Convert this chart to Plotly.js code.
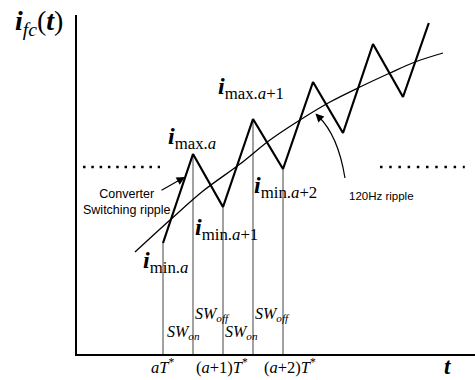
<!DOCTYPE html>
<html><head><meta charset="utf-8">
<script src="https://cdn.plot.ly/plotly-3.0.1.min.js"></script>
<style>html,body{margin:0;padding:0;background:#fff}#chart{width:475px;height:380px}</style>
</head><body><div id="chart"></div>
<script>
// switching instants in units of T* (aT* = 0) and the fuel-cell current there
const switchTimes = [0, 0.5, 1, 1.5, 2, 2.5, 3, 3.5, 4, 4.43];
const switchCurrents = [1.11, 2.00, 1.47, 2.35, 1.85, 2.72, 2.21, 3.10, 2.57, 3.31];
// 120 Hz ripple envelope
const rippleTimes = [-0.467, 0.117, 0.667, 1.283, 1.783, 2.283, 2.783, 3.283, 3.783, 4.2, 4.667];
const rippleCurrents = [1.02, 1.34, 1.63, 1.90, 2.14, 2.34, 2.52, 2.67, 2.81, 2.92, 3.01];
// number of marked instants (vertical guide lines)
const markedCount = 5;
// "..." continuation level and spans
const dottedLevel = 1.87;
const dottedLeft = [-1.333, -0.05];
const dottedRight = [3.617, 5.03];
// tick labels (placed in paper units below the axis)
const tickLabels = ['<i>aT</i><sup>*</sup>', '(<i>a</i>+1)<i>T</i><sup>*</sup>', '(<i>a</i>+2)<i>T</i><sup>*</sup>'];
const tickLabelX = [0.2136, 0.3643, 0.5352];

const gx = [], gy = [];
for (let k = 0; k < markedCount; k++) {
  gx.push(switchTimes[k], switchTimes[k], null);
  gy.push(0, switchCurrents[k], null);
}

const traces = [
  {x: gx, y: gy, mode: 'lines', line: {color: '#444', width: 1}, hoverinfo: 'skip'},
  {x: rippleTimes, y: rippleCurrents, mode: 'lines', line: {color: '#000', width: 1.3, shape: 'spline'}},
  {x: switchTimes, y: switchCurrents, mode: 'lines', line: {color: '#000', width: 2.2}},
  {x: dottedLeft, y: [dottedLevel, dottedLevel], mode: 'lines', line: {color: '#000', width: 2.5, dash: '2.5px,5.8px'}},
  {x: dottedRight, y: [dottedLevel, dottedLevel], mode: 'lines', line: {color: '#000', width: 2.5, dash: '2.5px,6.7px'}}
];

const serif = 'Liberation Serif, Times New Roman, serif';
const sans = 'Liberation Sans, Arial, sans-serif';
function lab(x, y, text, size, extra) {
  return Object.assign({x: x, y: y, xref: 'x', yref: 'y', text: text, showarrow: false,
    xanchor: 'left', yanchor: 'top', font: {family: serif, size: size, color: '#000'}}, extra || {});
}

const ann = [
  lab(-0.1608, 1.035, '<b><i>i</i></b><sub><i>fc</i></sub>(<b><i>t</i></b>)', 28, {xref: 'paper', yref: 'paper'}),
  lab(0.05, 2.33, '<b><i>i</i></b><sub>max.<i>a</i></sub>', 24),
  lab(0.883, 2.83, '<b><i>i</i></b><sub>max.<i>a</i>+1</sub>', 24),
  lab(0.5, 1.42, '<b><i>i</i></b><sub>min.<i>a</i>+1</sub>', 24),
  lab(1.483, 1.84, '<b><i>i</i></b><sub>min.<i>a</i>+2</sub>', 24),
  lab(-0.367, 1.09, '<b><i>i</i></b><sub>min.<i>a</i></sub>', 24),
  lab(-0.6, 1.69, 'Converter<br>Switching ripple', 12.5, {xanchor: 'center', font: {family: sans, size: 12.5, color: '#000'}}),
  lab(3.067, 1.66, '120Hz ripple', 11.5, {font: {family: sans, size: 11.5, color: '#000'}}),
  lab(0.033, 0.33, '<i>SW</i><sub><i>on</i></sub>', 16),
  lab(0.5, 0.51, '<i>SW</i><sub><i>off</i></sub>', 16),
  lab(1.0, 0.33, '<i>SW</i><sub><i>on</i></sub>', 16),
  lab(1.5, 0.51, '<i>SW</i><sub><i>off</i></sub>', 16),
  lab(0.932, 0.006, '<b><i>t</i></b>', 23, {xanchor: 'center', xref: 'paper', yref: 'paper'}),
  // arrows
  {x: 0.367, y: 1.77, xref: 'x', yref: 'y', text: '', showarrow: true, ax: -25, ay: 14,
   arrowhead: 2, arrowsize: 1.4, arrowwidth: 1.2, arrowcolor: '#000'},
  {x: 2.54, y: 2.405, xref: 'x', yref: 'y', text: '', showarrow: true, ax: 5, ay: 5,
   arrowhead: 2, arrowsize: 1.4, arrowwidth: 1.2, arrowcolor: '#000'}
];
tickLabels.forEach((t, i) => ann.push(lab(tickLabelX[i], 0.0, t, 16.5,
  {xanchor: 'center', xref: 'paper', yref: 'paper'})));

const layout = {
  width: 475, height: 380,
  margin: {l: 77, r: 0, t: 15, b: 26, pad: 0},
  paper_bgcolor: '#fff', plot_bgcolor: '#fff',
  showlegend: false,
  xaxis: {range: [-1.4333, 5.2], showline: true, linewidth: 2, linecolor: '#000', showgrid: false,
          zeroline: false, showticklabels: false, ticks: '', fixedrange: true},
  yaxis: {range: [0, 3.39], showline: true, linewidth: 2, linecolor: '#000', showgrid: false,
          zeroline: false, showticklabels: false, ticks: '', fixedrange: true},
  shapes: [
    {type: 'path', xref: 'x', yref: 'y', path: 'M 3.033 1.76 Q 2.917 2.19 2.583 2.38',
     line: {color: '#000', width: 1.2}}
  ],
  annotations: ann
};
Plotly.newPlot('chart', traces, layout, {staticPlot: true, displayModeBar: false});
</script></body></html>
